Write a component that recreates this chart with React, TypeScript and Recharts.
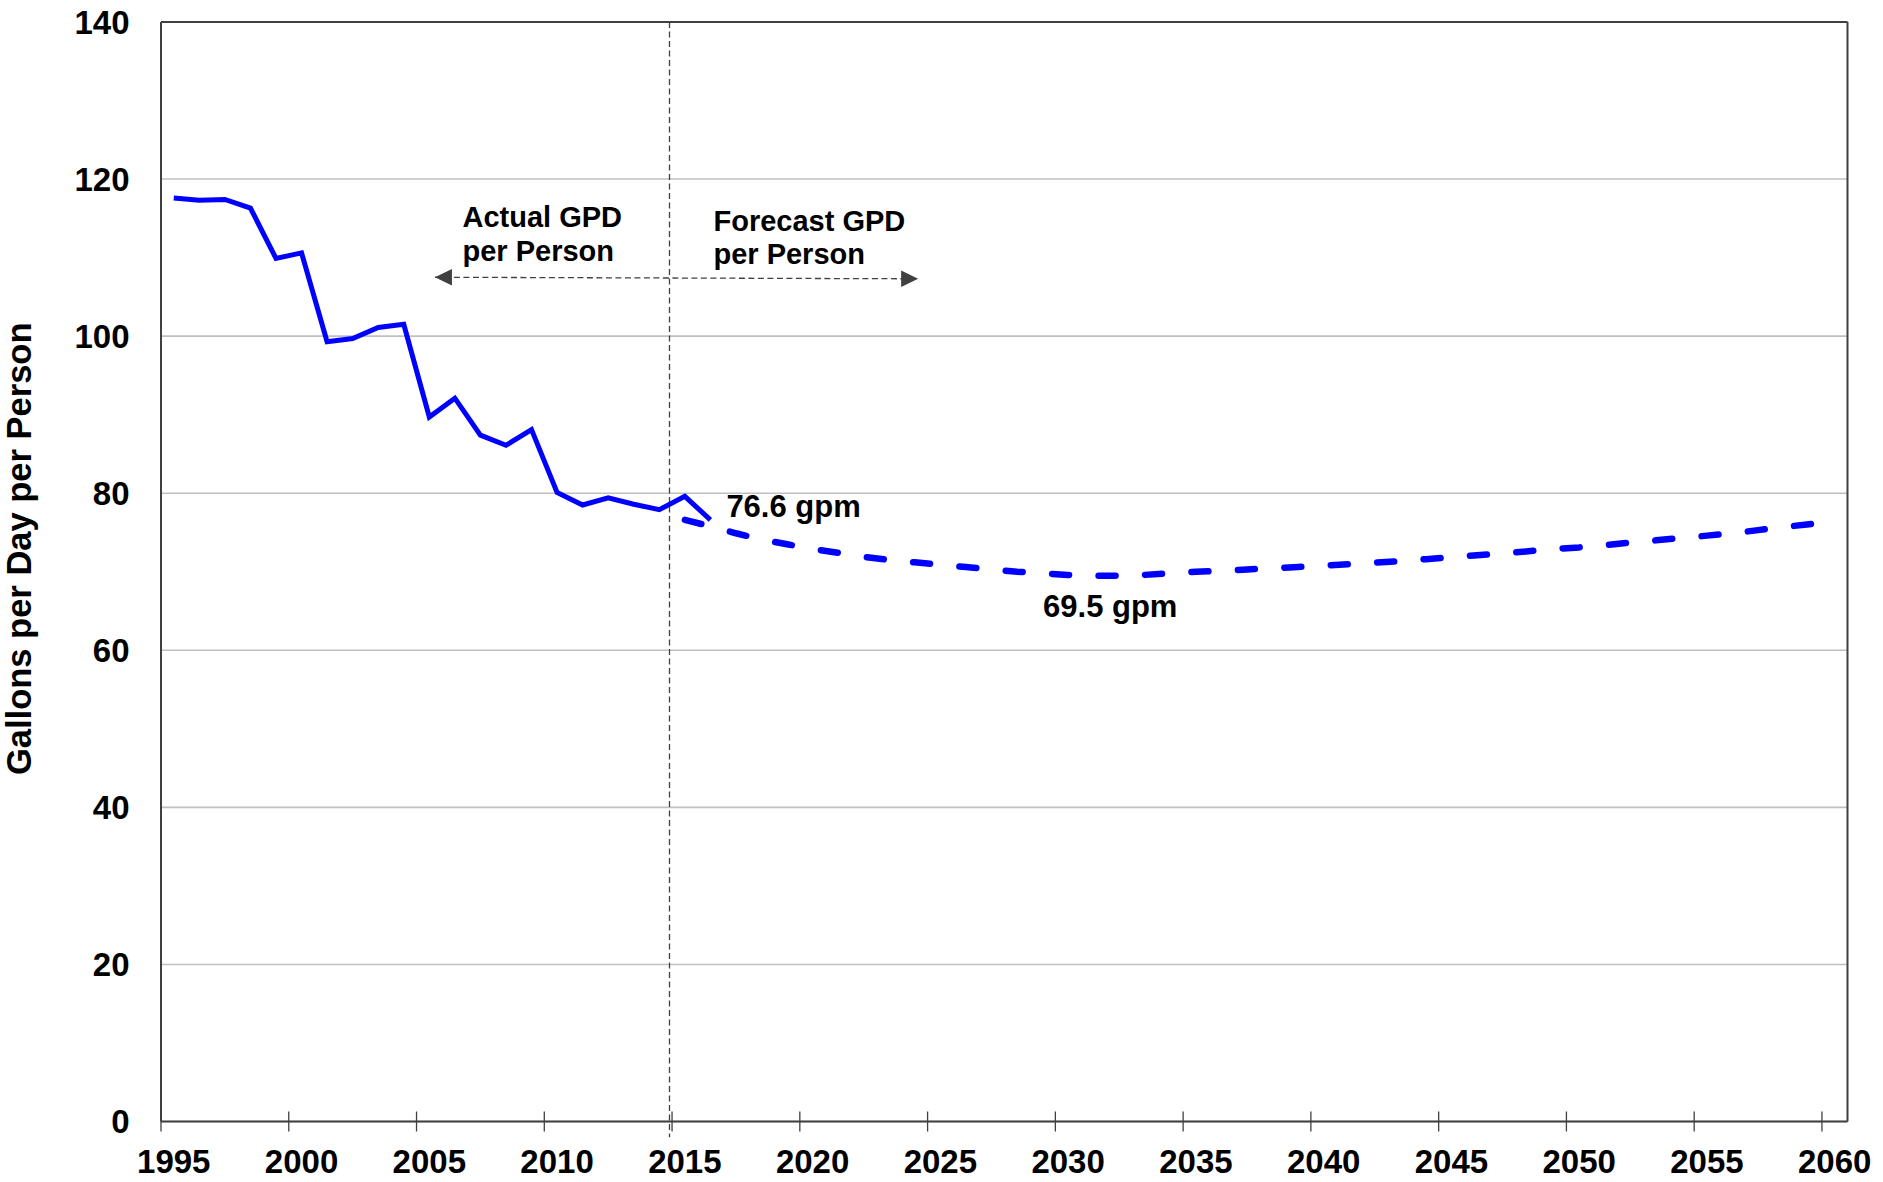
import React from 'react';
import { LineChart, Line, XAxis, YAxis, CartesianGrid, ReferenceLine, ReferenceDot } from 'recharts';

// ---------- data ----------
const actualYears = [1995, 1996, 1997, 1998, 1999, 2000, 2001, 2002, 2003, 2004, 2005, 2006, 2007, 2008, 2009, 2010, 2011, 2012, 2013, 2014, 2015, 2016];
const actualValues = [117.6, 117.3, 117.4, 116.3, 109.9, 110.6, 99.3, 99.7, 101.1, 101.5, 89.7, 92.1, 87.4, 86.1, 88.1, 80.1, 78.5, 79.4, 78.6, 77.9, 79.6, 76.6];

const forecastYears = [
  2015, 2016, 2017, 2018, 2019, 2020, 2021, 2022, 2023, 2024,
  2025, 2026, 2027, 2028, 2029, 2030, 2031, 2032, 2033, 2034,
  2035, 2036, 2037, 2038, 2039, 2040, 2041, 2042, 2043, 2044,
  2045, 2046, 2047, 2048, 2049, 2050, 2051, 2052, 2053, 2054,
  2055, 2056, 2057, 2058, 2059, 2060,
];
const forecastValues = [
  76.6, 75.8, 74.9, 74.1, 73.5, 72.9, 72.4, 71.9, 71.5, 71.2,
  70.9, 70.6, 70.3, 70.0, 69.8, 69.6, 69.5, 69.5, 69.6, 69.8,
  70.0, 70.1, 70.3, 70.45, 70.6, 70.8, 70.95, 71.15, 71.35, 71.6,
  71.85, 72.1, 72.35, 72.6, 72.9, 73.1, 73.4, 73.7, 74.0, 74.3,
  74.6, 74.9, 75.3, 75.7, 76.05, 76.4,
];

const xTicks = [1995, 2000, 2005, 2010, 2015, 2020, 2025, 2030, 2035, 2040, 2045, 2050, 2055, 2060];
const yTicks = [0, 20, 40, 60, 80, 100, 120, 140];

const yAxisTitle = 'Gallons per Day per Person';
const actualText = ['Actual GPD', 'per Person'];
const forecastText = ['Forecast GPD', 'per Person'];
const lastActualLabel = '76.6 gpm';
const minForecastLabel = '69.5 gpm';

// annotation anchors (data units)
const DIVIDER_YEAR = 2014.9;
const ARROW_LEFT = { x: 2005.72, y: 107.5 };
const ARROW_RIGHT = { x: 2024.63, y: 107.3 };
const ACTUAL_TEXT_AT = { x: 2006.8, y: 107.5 };
const FORECAST_TEXT_AT = { x: 2016.62, y: 107.3 };
const LAST_ACTUAL_AT = { x: 2016.5, y: 76.6 };
const MIN_FORECAST_AT = { x: 2032.5, y: 69.5 };

// ---------- layout ----------
const W = 1883;
const H = 1182;
const MARGIN = { top: 22, right: 35.5, bottom: 0, left: 0 };
const Y_AXIS_W = 161;
const X_AXIS_H = 60.5;
const X_MIN = 1995;
const X_MAX = 2061;
const PLOT_W = W - MARGIN.left - MARGIN.right - Y_AXIS_W;
const HALF_YEAR = PLOT_W / (X_MAX - X_MIN) / 2;

const FONT = '"Liberation Sans", Arial, Helvetica, sans-serif';
const AXIS = '#404040';
const BLUE = '#0000FF';

// table for the library, points at category centres
const tableYears = Array.from(new Set([...actualYears, ...forecastYears])).sort((a, b) => a - b);
const data = tableYears.map((yr) => {
  const ai = actualYears.indexOf(yr);
  const fi = forecastYears.indexOf(yr);
  return {
    x: yr + 0.5,
    actual: ai >= 0 ? actualValues[ai] : null,
    forecast: fi >= 0 ? forecastValues[fi] : null,
  };
});

const XTick = (props: any) => {
  const { x, y, payload } = props;
  return (
    <g>
      <line x1={x} x2={x} y1={y - 10} y2={y + 10} stroke={AXIS} strokeWidth={1.3} />
      <text x={x + HALF_YEAR} y={y + 51.5} textAnchor="middle" fontFamily={FONT} fontSize={33} fontWeight="bold" fill="#000">
        {payload.value}
      </text>
    </g>
  );
};

const YTitle = (props: any) => {
  const vb = props.viewBox || { x: 0, y: 22, width: 161, height: 1099.5 };
  const cx = vb.x + 31;
  const cy = vb.y + vb.height / 2 - 23;
  return (
    <text transform={`translate(${cx},${cy}) rotate(-90)`} textAnchor="middle" fontFamily={FONT} fontSize={34.5} fontWeight="bold" fill="#000">
      {yAxisTitle}
    </text>
  );
};

const twoLines = (lines: string[], dx: number, dy1: number, dy2: number) => (p: any) => (
  <text fontFamily={FONT} fontSize={29} fontWeight="bold" fill="#000">
    <tspan x={p.cx + dx} y={p.cy + dy1}>{lines[0]}</tspan>
    <tspan x={p.cx + dx} y={p.cy + dy2}>{lines[1]}</tspan>
  </text>
);

const LeftArrow = (p: any) => <path d={`M${p.cx},${p.cy} l17,-8.3 l0,16.6 z`} fill={AXIS} />;
const RightArrow = (p: any) => <path d={`M${p.cx},${p.cy} l-17,-8.3 l0,16.6 z`} fill={AXIS} />;

export default function App() {
  return (
    <div style={{ position: 'absolute', left: 0, top: 0, width: W, height: H, background: '#fff' }}>
      <LineChart width={W} height={H} data={data} margin={MARGIN}>
        <CartesianGrid vertical={false} stroke="#C0C0C0" strokeWidth={1.6} />
        <XAxis
          dataKey="x"
          type="number"
          domain={[X_MIN, X_MAX]}
          ticks={xTicks}
          interval={0}
          height={X_AXIS_H}
          axisLine={{ stroke: AXIS, strokeWidth: 2 }}
          tickLine={false}
          tickSize={0}
          tickMargin={0}
          tick={<XTick />}
        />
        <YAxis
          type="number"
          domain={[0, 140]}
          ticks={yTicks}
          interval={0}
          width={Y_AXIS_W}
          axisLine={{ stroke: AXIS, strokeWidth: 2 }}
          tickLine={false}
          tickSize={0}
          tickMargin={31.5}
          tick={{ fontFamily: FONT, fontSize: 33, fontWeight: 'bold', fill: '#000' }}
          label={<YTitle />}
        />
        <ReferenceLine y={140} stroke={AXIS} strokeWidth={2} />
        <ReferenceLine x={X_MAX} stroke={AXIS} strokeWidth={2} />
        <ReferenceLine
          segment={[{ x: DIVIDER_YEAR, y: 140 }, { x: DIVIDER_YEAR, y: -2 }]}
          ifOverflow="visible"
          stroke={AXIS}
          strokeWidth={1.3}
          strokeDasharray="6 3.5"
        />
        <ReferenceLine
          segment={[ARROW_LEFT, ARROW_RIGHT]}
          stroke={AXIS}
          strokeWidth={1.3}
          strokeDasharray="6 3.5"
        />
        <ReferenceDot x={ARROW_LEFT.x} y={ARROW_LEFT.y} r={1} shape={LeftArrow} />
        <ReferenceDot x={ARROW_RIGHT.x} y={ARROW_RIGHT.y} r={1} shape={RightArrow} />
        <ReferenceDot x={ACTUAL_TEXT_AT.x} y={ACTUAL_TEXT_AT.y} r={1} shape={twoLines(actualText, 0, -50, -16)} />
        <ReferenceDot x={FORECAST_TEXT_AT.x} y={FORECAST_TEXT_AT.y} r={1} shape={twoLines(forecastText, 0, -48, -14.5)} />
        <Line
          dataKey="actual"
          type="linear"
          stroke={BLUE}
          strokeWidth={5}
          dot={false}
          activeDot={false}
          isAnimationActive={false}
          connectNulls={false}
        />
        <Line
          dataKey="forecast"
          type="linear"
          stroke={BLUE}
          strokeWidth={6.5}
          strokeDasharray="17 29.5"
          strokeLinecap="round"
          dot={false}
          activeDot={false}
          isAnimationActive={false}
          connectNulls={false}
        />
        <ReferenceDot
          x={LAST_ACTUAL_AT.x}
          y={LAST_ACTUAL_AT.y}
          r={1}
          shape={(p: any) => (
            <text x={p.cx + 16} y={p.cy - 3} fontFamily={FONT} fontSize={31} fontWeight="bold" fill="#000">
              {lastActualLabel}
            </text>
          )}
        />
        <ReferenceDot
          x={MIN_FORECAST_AT.x}
          y={MIN_FORECAST_AT.y}
          r={1}
          shape={(p: any) => (
            <text x={p.cx - 9} y={p.cy + 41} textAnchor="middle" fontFamily={FONT} fontSize={31} fontWeight="bold" fill="#000">
              {minForecastLabel}
            </text>
          )}
        />
      </LineChart>
    </div>
  );
}
